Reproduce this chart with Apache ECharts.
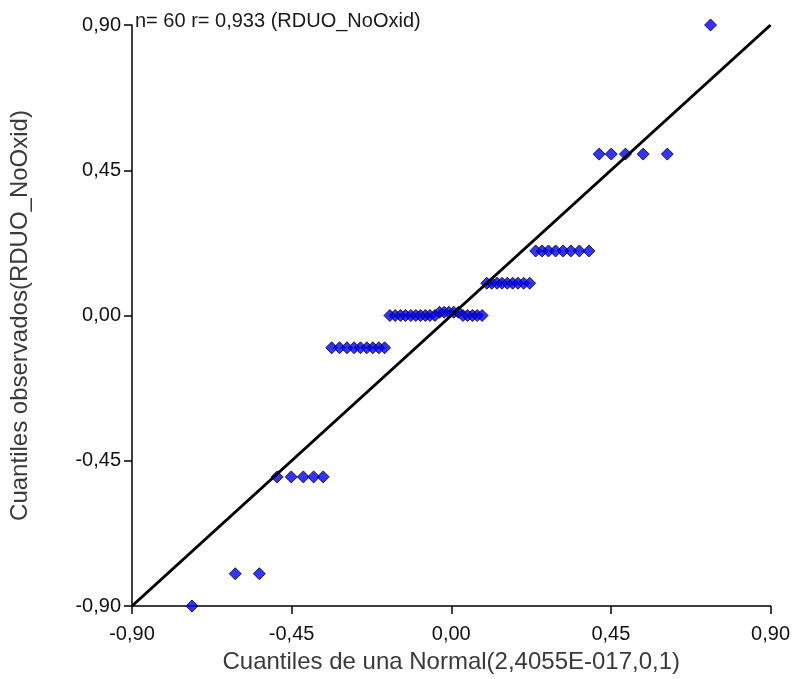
<!DOCTYPE html>
<html>
<head>
<meta charset="utf-8">
<script src="https://cdn.jsdelivr.net/npm/echarts@6/dist/echarts.min.js"></script>
<style>
html,body{margin:0;padding:0;background:#fff;}
#main{width:793px;height:679px;}
</style>
</head>
<body>
<div id="main"></div>
<script>
// cuantiles teoricos (eje x) y observados (eje y)
var xQuant = [
  -0.731, -0.609, -0.541,
  -0.491, -0.451, -0.417, -0.388, -0.361,
  -0.337, -0.315, -0.294, -0.274, -0.256, -0.238, -0.221, -0.204, -0.188,
  -0.173, -0.158, -0.143, -0.129, -0.114, -0.100, -0.087, -0.073, -0.060, -0.046,
  -0.033, -0.020, -0.007, 0.007, 0.020, 0.033, 0.046, 0.060, 0.073, 0.087,
  0.100, 0.114, 0.129, 0.143, 0.158, 0.173, 0.188, 0.204, 0.221,
  0.238, 0.256, 0.274, 0.294, 0.315, 0.337, 0.361, 0.388,
  0.417, 0.451, 0.491, 0.541, 0.609,
  0.731
]
var yObs = [
  -0.90, -0.80, -0.80,
  -0.50, -0.50, -0.50, -0.50, -0.50,
  -0.10, -0.10, -0.10, -0.10, -0.10, -0.10, -0.10, -0.10, -0.10,
  0.00, 0.00, 0.00, 0.00, 0.00, 0.00, 0.00, 0.00, 0.00, 0.00,
  0.01, 0.01, 0.01, 0.01, 0.01, 0.00, 0.00, 0.00, 0.00, 0.00,
  0.10, 0.10, 0.10, 0.10, 0.10, 0.10, 0.10, 0.10, 0.10,
  0.20, 0.20, 0.20, 0.20, 0.20, 0.20, 0.20, 0.20,
  0.50, 0.50, 0.50, 0.50, 0.50,
  0.90
]
var refLine = [[-0.9, -0.9], [0.9, 0.9]]
var tickMin = -0.9
var tickMax = 0.9
var tickStep = 0.45
var infoText = 'n= 60 r= 0,933 (RDUO_NoOxid)'

var points = []
for (var i = 0; i < xQuant.length; i++) {
  points.push([xQuant[i], yObs[i]])
}

function fmt(v) {
  return v.toFixed(2).replace('.', ',')
}

var myChart = echarts.init(document.getElementById('main'))
var option = {
  animation: false,
  backgroundColor: '#ffffff',
  textStyle: { fontFamily: 'Liberation Sans, Arial, sans-serif' },
  title: {
    text: infoText,
    left: 135,
    top: 11,
    padding: 0,
    textStyle: { fontSize: 20, fontWeight: 'normal', color: '#1a1a1a' }
  },
  grid: { left: 130, right: 21, top: 25, bottom: 72 },
  xAxis: {
    type: 'value',
    min: tickMin,
    max: tickMax,
    interval: tickStep,
    name: 'Cuantiles de una Normal(2,4055E-017,0,1)',
    nameLocation: 'middle',
    nameGap: 44,
    nameTextStyle: { fontSize: 24, color: '#3a3a3a' },
    splitLine: { show: false },
    axisLine: { onZero: false, lineStyle: { color: '#000', width: 1.5 } },
    axisTick: { length: 8, lineStyle: { color: '#000', width: 1.5 } },
    axisLabel: { formatter: fmt, fontSize: 20, color: '#111', margin: 18 }
  },
  yAxis: {
    type: 'value',
    min: tickMin,
    max: tickMax,
    interval: tickStep,
    name: 'Cuantiles observados(RDUO_NoOxid)',
    nameLocation: 'middle',
    nameGap: 100,
    nameTextStyle: { fontSize: 24, color: '#3a3a3a' },
    splitLine: { show: false },
    axisLine: { onZero: false, lineStyle: { color: '#000', width: 1.5 } },
    axisTick: { length: 8, lineStyle: { color: '#000', width: 1.5 } },
    axisLabel: { formatter: fmt, fontSize: 20, color: '#111', margin: 11 }
  },
  series: [
    {
      type: 'line',
      data: refLine,
      symbol: 'none',
      lineStyle: { color: '#000', width: 3 },
      z: 3
    },
    {
      type: 'scatter',
      data: points,
      symbol: 'diamond',
      symbolSize: [12, 12],
      itemStyle: { color: '#0000ff', borderColor: '#000', borderWidth: 1 },
      z: 2
    }
  ]
}
myChart.setOption(option)
</script>
</body>
</html>
